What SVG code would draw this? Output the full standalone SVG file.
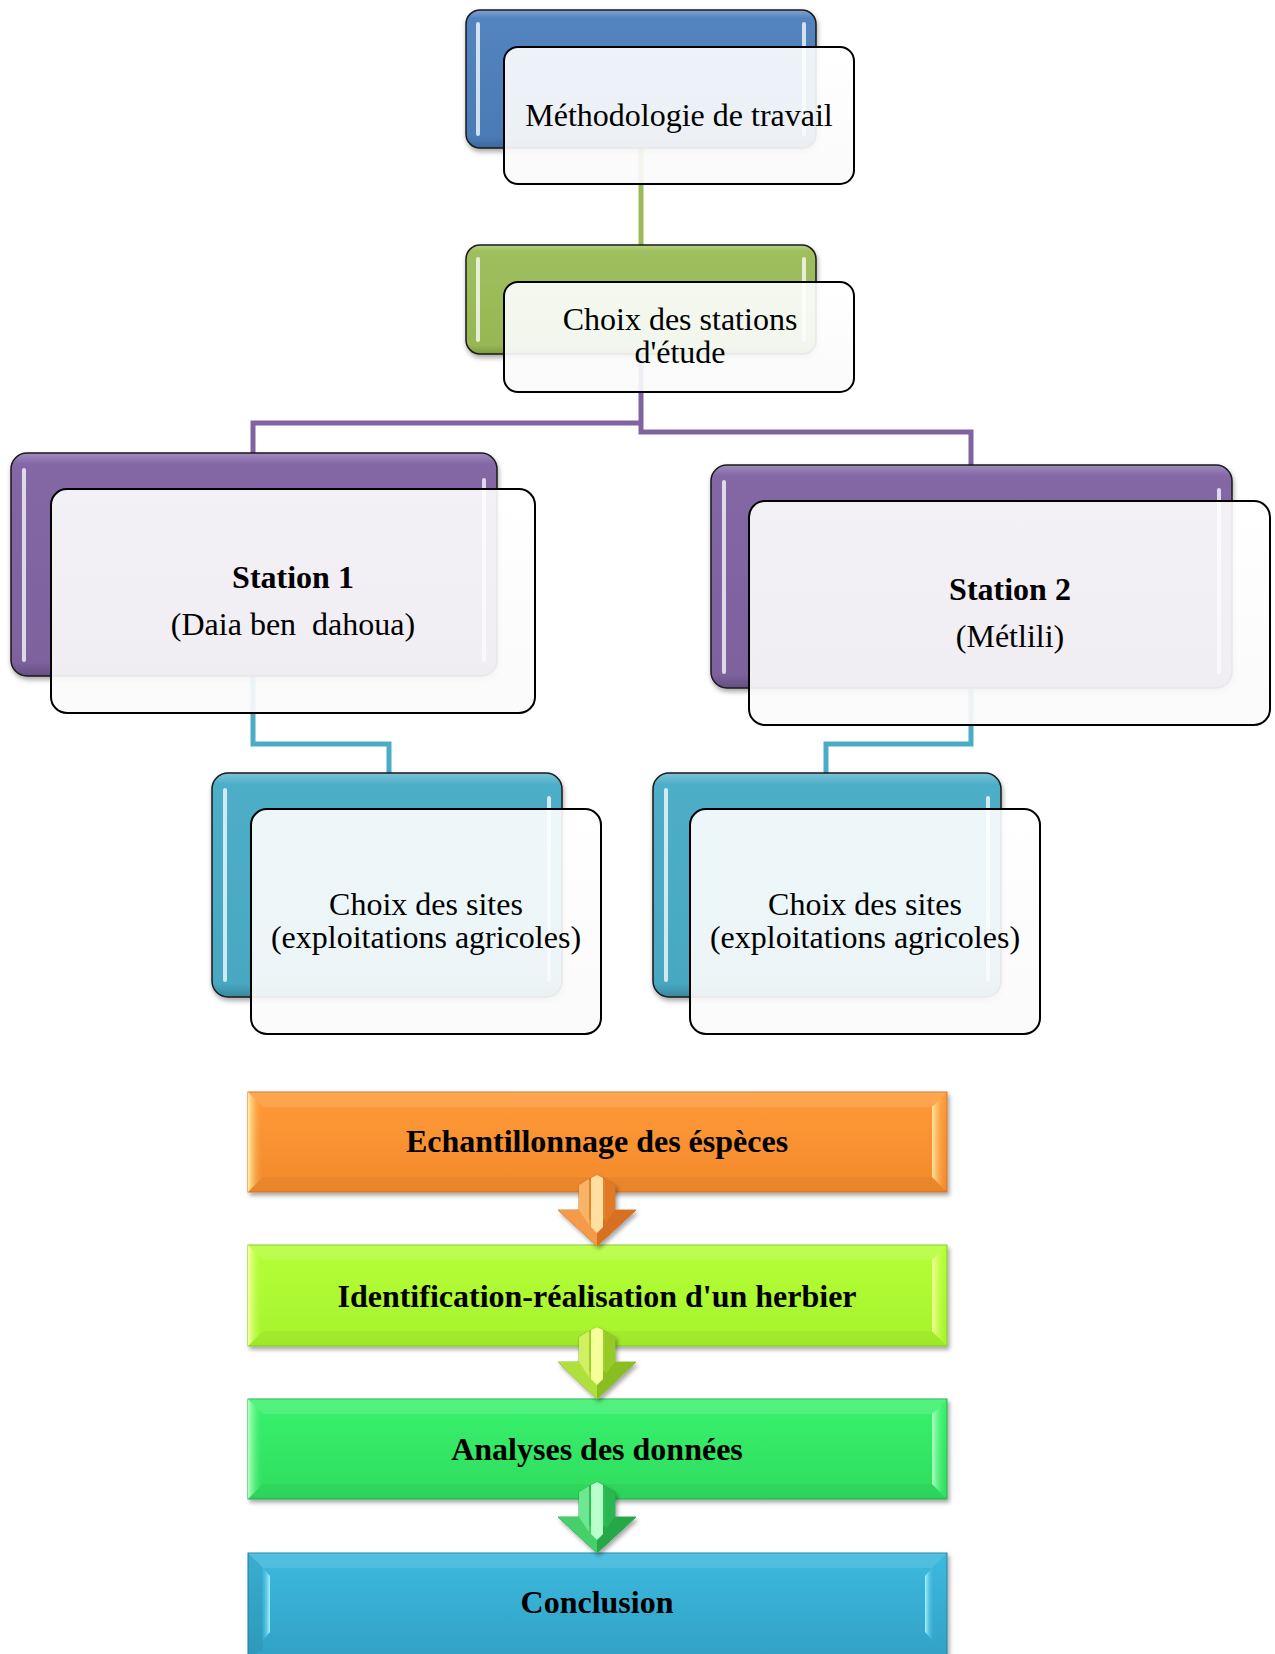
<svg xmlns="http://www.w3.org/2000/svg" width="1275" height="1654" viewBox="0 0 1275 1654">
<defs>
<style>
.t{font-family:"Liberation Serif","Times New Roman",serif;font-size:32px;fill:#000;text-anchor:middle}
.b{font-weight:bold}
.back{stroke:#1a1a1a;stroke-width:1.5}
.front{fill:url(#frontG);stroke:#000;stroke-width:2}
.hl{stroke:#fff;stroke-opacity:.75;stroke-width:4;stroke-linecap:round;fill:none}
.con{fill:none;stroke-width:5}
.bx{stroke-width:1}
</style>
<filter id="sh" x="-5%" y="-5%" width="112%" height="120%"><feDropShadow dx="1" dy="3" stdDeviation="2.5" flood-color="#000" flood-opacity="0.35"/></filter>
<filter id="sh2" x="-5%" y="-10%" width="112%" height="130%"><feDropShadow dx="2" dy="3" stdDeviation="2" flood-color="#000" flood-opacity="0.35"/></filter>
<linearGradient id="frontG" x1="0" y1="0" x2="0" y2="1"><stop offset="0" stop-color="#fff" stop-opacity=".9"/><stop offset="1" stop-color="#fafafa" stop-opacity=".92"/></linearGradient>
<linearGradient id="blueG" x1="0" y1="0" x2="0" y2="1"><stop offset="0" stop-color="#7FA3D2"/><stop offset=".06" stop-color="#5384C0"/><stop offset=".92" stop-color="#4A7BB6"/><stop offset="1" stop-color="#3C6699"/></linearGradient>
<linearGradient id="greenG" x1="0" y1="0" x2="0" y2="1"><stop offset="0" stop-color="#B8D280"/><stop offset=".06" stop-color="#9FBE5D"/><stop offset=".92" stop-color="#97B654"/><stop offset="1" stop-color="#7C9A40"/></linearGradient>
<linearGradient id="purpleG" x1="0" y1="0" x2="0" y2="1"><stop offset="0" stop-color="#A08BBE"/><stop offset=".05" stop-color="#8367A5"/><stop offset=".94" stop-color="#7D629E"/><stop offset="1" stop-color="#654E82"/></linearGradient>
<linearGradient id="tealG" x1="0" y1="0" x2="0" y2="1"><stop offset="0" stop-color="#7CC4D8"/><stop offset=".05" stop-color="#4EAEC8"/><stop offset=".94" stop-color="#48A8C1"/><stop offset="1" stop-color="#38889E"/></linearGradient>
<linearGradient id="orG" x1="0" y1="0" x2="0" y2="1"><stop offset="0" stop-color="#FF9A38"/><stop offset="1" stop-color="#F38A2C"/></linearGradient>
<linearGradient id="liG" x1="0" y1="0" x2="0" y2="1"><stop offset="0" stop-color="#B4FF38"/><stop offset="1" stop-color="#A6F22C"/></linearGradient>
<linearGradient id="grG" x1="0" y1="0" x2="0" y2="1"><stop offset="0" stop-color="#38F26C"/><stop offset="1" stop-color="#2FDC5E"/></linearGradient>
<linearGradient id="blG" x1="0" y1="0" x2="0" y2="1"><stop offset="0" stop-color="#3DB9DE"/><stop offset="1" stop-color="#31A2C6"/></linearGradient>
<linearGradient id="orL" x1="0" y1="0" x2="1" y2="0"><stop offset="0" stop-color="#FFF0A8"/><stop offset="1" stop-color="#F7922E" stop-opacity="0"/></linearGradient>
<linearGradient id="orR" x1="1" y1="0" x2="0" y2="0"><stop offset="0" stop-color="#F7922E" stop-opacity="0"/><stop offset="1" stop-color="#FFE8A0"/></linearGradient>
<linearGradient id="liL" x1="0" y1="0" x2="1" y2="0"><stop offset="0" stop-color="#F8FFA0"/><stop offset="1" stop-color="#ADFF2F" stop-opacity="0"/></linearGradient>
<linearGradient id="liR" x1="1" y1="0" x2="0" y2="0"><stop offset="0" stop-color="#ADFF2F" stop-opacity="0"/><stop offset="1" stop-color="#F8FF9A"/></linearGradient>
<linearGradient id="grL" x1="0" y1="0" x2="1" y2="0"><stop offset="0" stop-color="#B8FFC8"/><stop offset="1" stop-color="#33EE66" stop-opacity="0"/></linearGradient>
<linearGradient id="grR" x1="1" y1="0" x2="0" y2="0"><stop offset="0" stop-color="#33EE66" stop-opacity="0"/><stop offset="1" stop-color="#B0FFC4"/></linearGradient>
<linearGradient id="blL" x1="1" y1="0" x2="0" y2="0"><stop offset="0" stop-color="#A8F4FF"/><stop offset="1" stop-color="#3AB4DA" stop-opacity="0"/></linearGradient>
<linearGradient id="blR" x1="0" y1="0" x2="1" y2="0"><stop offset="0" stop-color="#A8F4FF"/><stop offset="1" stop-color="#3AB4DA" stop-opacity="0"/></linearGradient>
</defs>
<rect width="1275" height="1654" fill="#fff"/>

<g id="connectors">
<path class="con" stroke="#9BBB59" d="M641,148 V245"/>
<path class="con" stroke="#8064A2" d="M641,354 V432 H971 V465"/>
<path class="con" stroke="#8064A2" d="M641,423 H253 V453"/>
<path class="con" stroke="#4BACC6" d="M253,676 V744 H389 V773"/>
<path class="con" stroke="#4BACC6" d="M971,688 V744 H826 V773"/>
</g>

<g id="node-methodologie">
<rect class="back" x="466" y="10" width="350" height="138" rx="14" fill="url(#blueG)" filter="url(#sh)"/>
<path class="hl" d="M478,24 V134 M804,24 V134"/>
<rect class="front" x="504" y="47" width="350" height="137" rx="14"/>
<text class="t" x="679" y="126">Méthodologie de travail</text>
</g>

<g id="node-choix-stations">
<rect class="back" x="466" y="245" width="350" height="109" rx="14" fill="url(#greenG)" filter="url(#sh)"/>
<path class="hl" d="M478,259 V340 M804,259 V340"/>
<rect class="front" x="504" y="282" width="350" height="110" rx="14"/>
<text class="t" x="680" y="330">Choix des stations</text>
<text class="t" x="680" y="363">d'étude</text>
</g>

<g id="node-station1">
<rect class="back" x="11" y="453" width="486" height="223" rx="16" fill="url(#purpleG)" filter="url(#sh)"/>
<path class="hl" d="M24,470 V660 M484,480 V660"/>
<rect class="front" x="51" y="489" width="484" height="224" rx="16"/>
<text class="t b" x="293" y="588">Station 1</text>
<text class="t" x="293" y="635" xml:space="preserve" style="white-space:pre">(Daia ben  dahoua)</text>
</g>

<g id="node-station2">
<rect class="back" x="711" y="465" width="521" height="223" rx="16" fill="url(#purpleG)" filter="url(#sh)"/>
<path class="hl" d="M724,482 V672 M1219,490 V672"/>
<rect class="front" x="749" y="501" width="521" height="224" rx="16"/>
<text class="t b" x="1010" y="600">Station 2</text>
<text class="t" x="1010" y="647">(Métlili)</text>
</g>

<g id="node-sites1">
<rect class="back" x="212" y="773" width="350" height="224" rx="16" fill="url(#tealG)" filter="url(#sh)"/>
<path class="hl" d="M225,790 V980 M549,798 V980"/>
<rect class="front" x="251" y="809" width="350" height="225" rx="16"/>
<text class="t" x="426" y="915">Choix des sites</text>
<text class="t" x="426" y="948">(exploitations agricoles)</text>
</g>

<g id="node-sites2">
<rect class="back" x="653" y="773" width="348" height="224" rx="16" fill="url(#tealG)" filter="url(#sh)"/>
<path class="hl" d="M666,790 V980 M988,798 V980"/>
<rect class="front" x="690" y="809" width="350" height="225" rx="16"/>
<text class="t" x="865" y="915">Choix des sites</text>
<text class="t" x="865" y="948">(exploitations agricoles)</text>
</g>

<g id="node-echantillonnage">
<rect class="bx" x="248" y="1092" width="699" height="100" fill="url(#orG)" stroke="#D87424" filter="url(#sh2)"/>
<path d="M248,1092 H947 L932,1107 H263 Z" fill="#fff" fill-opacity=".12"/>
<path d="M248,1192 H947 L932,1177 H263 Z" fill="#000" fill-opacity=".04"/>
<path d="M248,1092 L263,1107 V1177 L248,1192 Z" fill="url(#orL)"/>
<path d="M947,1092 L932,1107 V1177 L947,1192 Z" fill="url(#orR)"/>
<text class="t b" x="597" y="1152">Echantillonnage des éspèces</text>
</g>

<g id="node-identification">
<rect class="bx" x="248" y="1245" width="699" height="101" fill="url(#liG)" stroke="#8CC820" filter="url(#sh2)"/>
<path d="M248,1245 H947 L932,1260 H263 Z" fill="#fff" fill-opacity=".12"/>
<path d="M248,1346 H947 L932,1331 H263 Z" fill="#000" fill-opacity=".04"/>
<path d="M248,1245 L263,1260 V1331 L248,1346 Z" fill="url(#liL)"/>
<path d="M947,1245 L932,1260 V1331 L947,1346 Z" fill="url(#liR)"/>
<text class="t b" x="597" y="1307">Identification-réalisation d'un herbier</text>
</g>

<g id="node-analyses">
<rect class="bx" x="248" y="1399" width="699" height="100" fill="url(#grG)" stroke="#22B04A" filter="url(#sh2)"/>
<path d="M248,1399 H947 L932,1414 H263 Z" fill="#fff" fill-opacity=".12"/>
<path d="M248,1499 H947 L932,1484 H263 Z" fill="#000" fill-opacity=".04"/>
<path d="M248,1399 L263,1414 V1484 L248,1499 Z" fill="url(#grL)"/>
<path d="M947,1399 L932,1414 V1484 L947,1499 Z" fill="url(#grR)"/>
<text class="t b" x="597" y="1460">Analyses des données</text>
</g>

<g id="node-conclusion">
<rect class="bx" x="248" y="1553" width="699" height="104" fill="url(#blG)" stroke="#2585A5" filter="url(#sh2)"/>
<path d="M248,1553 H947 L932,1568 H263 Z" fill="#fff" fill-opacity=".1"/>
<path d="M248,1553 L263,1568 V1650 L248,1657 Z" fill="#000" fill-opacity=".06"/>
<path d="M261,1566 L270,1576 V1632 L261,1642 Z" fill="url(#blL)"/>
<path d="M934,1566 L925,1576 V1632 L934,1642 Z" fill="url(#blR)"/>
<text class="t b" x="597" y="1613">Conclusion</text>
</g>

<g id="arrows">
<g transform="translate(597,1175)" filter="url(#sh2)">
<path d="M-18,10 L0,0 L18,10 V35 H39 L0,71 L-39,35 H-18 Z" fill="#E8822C" stroke="#C86A1C" stroke-width=".8"/>
<path d="M-39,35 H-18 L0,50 V71 Z" fill="#F49A48"/>
<path d="M39,35 H18 L0,50 V71 Z" fill="#D87020"/>
<path d="M-18,10 L-8,4 V50 L-18,35 Z" fill="#F8B466"/>
<path d="M-6,3 L0,0 L6,3 V52 L0,58 L-6,52 Z" fill="#FFE0A0"/>
<path d="M8,4 L18,10 V35 L8,48 Z" fill="#E07A26"/>
</g>
<g transform="translate(597,1327)" filter="url(#sh2)">
<path d="M-18,10 L0,0 L18,10 V35 H39 L0,72 L-39,35 H-18 Z" fill="#9CD02C" stroke="#7FB01C" stroke-width=".8"/>
<path d="M-39,35 H-18 L0,50 V72 Z" fill="#B0E03A"/>
<path d="M39,35 H18 L0,50 V72 Z" fill="#88BE22"/>
<path d="M-18,10 L-8,4 V50 L-18,35 Z" fill="#CFF060"/>
<path d="M-6,3 L0,0 L6,3 V52 L0,58 L-6,52 Z" fill="#F4FF9A"/>
<path d="M8,4 L18,10 V35 L8,48 Z" fill="#96CA28"/>
</g>
<g transform="translate(597,1482)" filter="url(#sh2)">
<path d="M-18,10 L0,0 L18,10 V35 H39 L0,71 L-39,35 H-18 Z" fill="#2EBE56" stroke="#1E9E40" stroke-width=".8"/>
<path d="M-39,35 H-18 L0,50 V71 Z" fill="#44D06A"/>
<path d="M39,35 H18 L0,50 V71 Z" fill="#26A84A"/>
<path d="M-18,10 L-8,4 V50 L-18,35 Z" fill="#6EE890"/>
<path d="M-6,3 L0,0 L6,3 V52 L0,58 L-6,52 Z" fill="#B8FFCC"/>
<path d="M8,4 L18,10 V35 L8,48 Z" fill="#2AB652"/>
</g>
</g>
</svg>
